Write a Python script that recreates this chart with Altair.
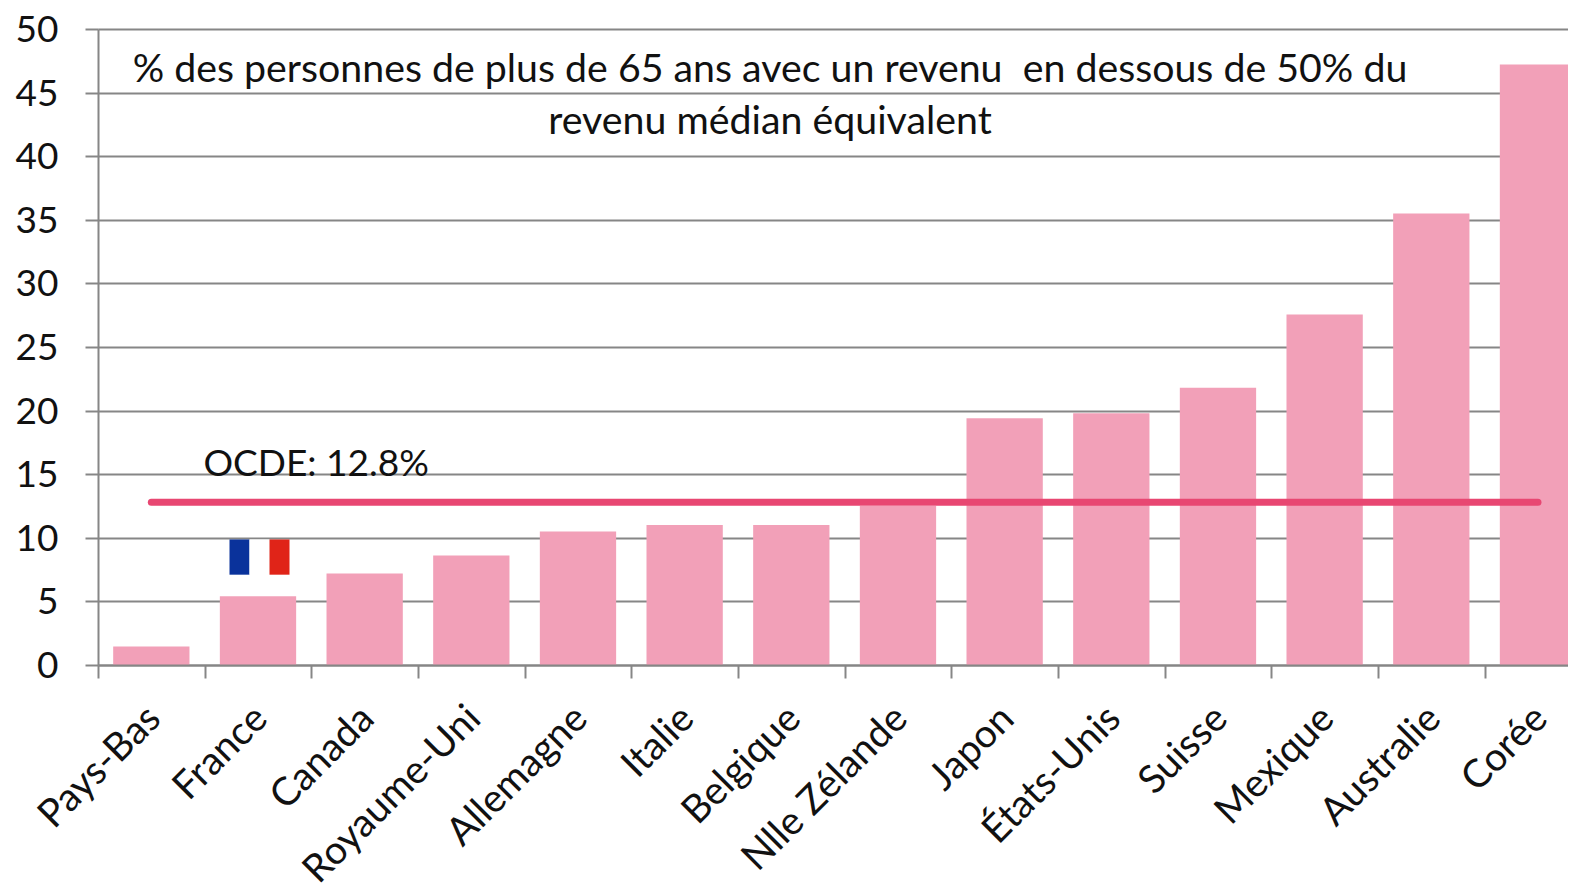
import altair as alt
import pandas as pd

pays = ["Pays-Bas", "France", "Canada", "Royaume-Uni", "Allemagne", "Italie", "Belgique",
        "Nlle Zélande", "Japon", "États-Unis", "Suisse", "Mexique", "Australie", "Corée"]
valeurs = [1.45, 5.4, 7.2, 8.6, 10.5, 11.0, 11.0, 12.5, 19.4, 19.8, 21.8, 27.55, 35.5, 47.2]
ocde = [12.8] * len(pays)
titre = ["% des personnes de plus de 65 ans avec un revenu \u00a0en dessous de 50% du",
         "revenu médian équivalent"]
ocde_label = "OCDE: 12.8%"
y_ticks = list(range(0, 55, 5))
FONT = "Lato"
GREY = "#868686"

df = pd.DataFrame({"pays": pays, "valeur": valeurs, "ocde": ocde})

x_scale = alt.Scale(domain=pays, range=[0, 1493.3], paddingInner=0, paddingOuter=0)
y_scale = alt.Scale(domain=[0, 50], nice=False)

x_axis = alt.Axis(title=None, labelAngle=315, labelAlign="right", labelBaseline="middle",
                  labelFont=FONT, labelFontSize=39, labelColor="#111111", labelPadding=34,
                  labelOffset=2.5, labelOverlap=False, labelFlush=False, labelLimit=500,
                  tickBand="extent", tickColor=GREY, tickWidth=2, tickSize=13, domainColor=GREY,
                  domainWidth=2, grid=False, zindex=1)
y_axis = alt.Axis(title=None, values=y_ticks, labelFont=FONT, labelFontSize=37, labelColor="#111111",
                  labelPadding=27, labelOffset=1.5, tickColor=GREY, tickWidth=2, tickSize=13,
                  domainColor=GREY, domainWidth=2, grid=True, gridColor=GREY, gridWidth=2,
                  gridOpacity=1, labelOverlap=False, labelFlush=False)

bars = alt.Chart(df).mark_bar(color="#F2A0B8", size=76.3, clip=True).encode(
    x=alt.X("pays:N", scale=x_scale, sort=pays, axis=x_axis),
    y=alt.Y("valeur:Q", scale=y_scale, axis=y_axis),
)

line = alt.Chart(df).mark_line(color="#E84772", strokeWidth=7, strokeCap="round").encode(
    x=alt.X("pays:N", scale=x_scale, sort=pays),
    y=alt.Y("ocde:Q", scale=y_scale),
)

flag_df = pd.DataFrame({"pays": ["France"], "bas": [7.1], "haut": [9.87]})
flag = [
    alt.Chart(flag_df).mark_bar(color=c, size=20, xOffset=off).encode(
        x=alt.X("pays:N", scale=x_scale, sort=pays),
        y=alt.Y("bas:Q", scale=y_scale),
        y2="haut:Q",
    )
    for c, off in [("#0A329B", -18.5), ("#FFFFFF", 1.5), ("#E02418", 21.5)]
]

titre_df = pd.DataFrame({"t": titre, "y": [46.8, 42.7]})
title_text = alt.Chart(titre_df).mark_text(font=FONT, fontSize=39.3, color="#111111", align="center",
                                           baseline="middle").encode(
    x=alt.value(672),
    y=alt.Y("y:Q", scale=y_scale),
    text="t:N",
)

ocde_df = pd.DataFrame({"t": [ocde_label], "y": [15.7]})
ocde_text = alt.Chart(ocde_df).mark_text(font=FONT, fontSize=37, color="#111111", align="left",
                                         baseline="middle").encode(
    x=alt.value(105.5),
    y=alt.Y("y:Q", scale=y_scale),
    text="t:N",
)

chart = alt.layer(bars, *flag, line, title_text, ocde_text).properties(
    width=1470, height=636,
    padding={"left": 90, "top": 21, "right": 0, "bottom": 220},
    autosize=alt.AutoSizeParams(type="none"),
    background="white",
).configure_view(stroke=None)

chart.save("out.html", embed_options={"renderer": "svg", "actions": False})
